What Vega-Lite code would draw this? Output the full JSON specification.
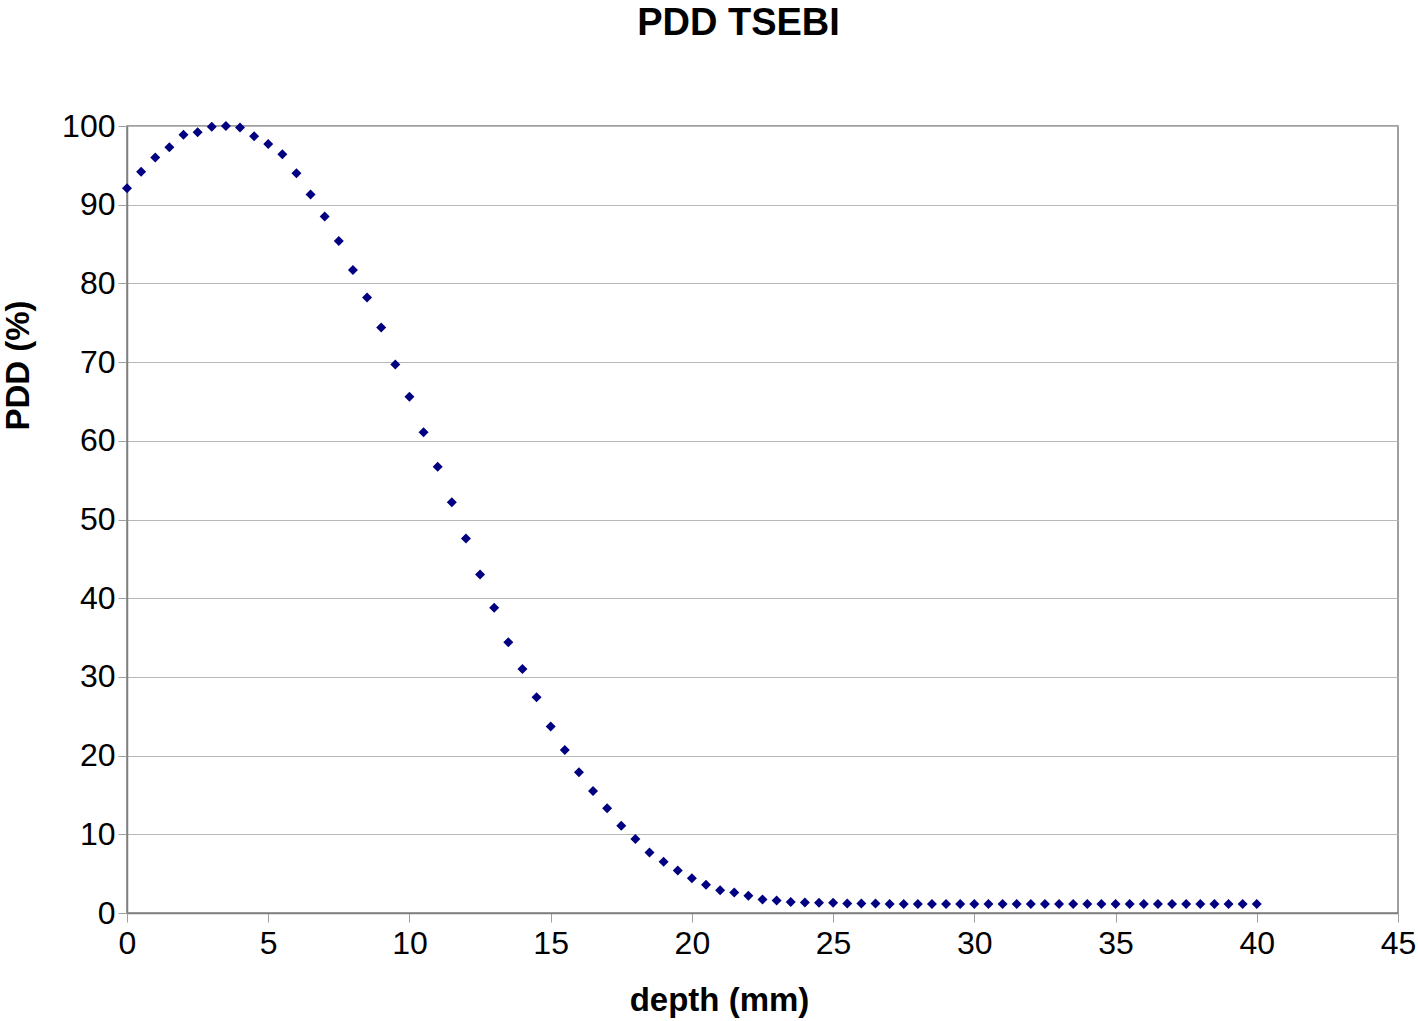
{
  "$schema": "https://vega.github.io/schema/vega-lite/v6.json",
  "width": 1271,
  "height": 787,
  "autosize": "none",
  "padding": {"left": 127, "top": 126, "right": 20, "bottom": 108},
  "background": "white",
  "title": {
    "text": "PDD TSEBI",
    "font": "Liberation Sans",
    "fontSize": 38,
    "fontWeight": "bold",
    "color": "black",
    "anchor": "middle",
    "dx": -24,
    "offset": 67
  },
  "config": {
    "view": {"stroke": "#808080", "strokeWidth": 1.5},
    "axis": {
      "labelFont": "Liberation Sans",
      "titleFont": "Liberation Sans",
      "labelColor": "black",
      "titleColor": "black",
      "labelFontSize": 32,
      "titleFontSize": 33,
      "titleFontWeight": "bold",
      "domainColor": "#808080",
      "domainWidth": 1.5,
      "tickColor": "#a0a0a0",
      "tickSize": 9,
      "gridColor": "#b8b8b8",
      "gridWidth": 1
    }
  },
  "data": {
    "values": [
      {"depth": 0, "pdd": 92.1}, {"depth": 0.5, "pdd": 94.2}, {"depth": 1, "pdd": 96.0}, {"depth": 1.5, "pdd": 97.3},
      {"depth": 2, "pdd": 98.9}, {"depth": 2.5, "pdd": 99.2}, {"depth": 3, "pdd": 99.9}, {"depth": 3.5, "pdd": 100},
      {"depth": 4, "pdd": 99.8}, {"depth": 4.5, "pdd": 98.7}, {"depth": 5, "pdd": 97.7}, {"depth": 5.5, "pdd": 96.4},
      {"depth": 6, "pdd": 94.0}, {"depth": 6.5, "pdd": 91.3}, {"depth": 7, "pdd": 88.5}, {"depth": 7.5, "pdd": 85.4},
      {"depth": 8, "pdd": 81.7}, {"depth": 8.5, "pdd": 78.2}, {"depth": 9, "pdd": 74.4}, {"depth": 9.5, "pdd": 69.7},
      {"depth": 10, "pdd": 65.6}, {"depth": 10.5, "pdd": 61.1}, {"depth": 11, "pdd": 56.7}, {"depth": 11.5, "pdd": 52.2},
      {"depth": 12, "pdd": 47.6}, {"depth": 12.5, "pdd": 43.0}, {"depth": 13, "pdd": 38.8}, {"depth": 13.5, "pdd": 34.4},
      {"depth": 14, "pdd": 31.0}, {"depth": 14.5, "pdd": 27.4}, {"depth": 15, "pdd": 23.7}, {"depth": 15.5, "pdd": 20.7},
      {"depth": 16, "pdd": 17.9}, {"depth": 16.5, "pdd": 15.5}, {"depth": 17, "pdd": 13.3}, {"depth": 17.5, "pdd": 11.1},
      {"depth": 18, "pdd": 9.4}, {"depth": 18.5, "pdd": 7.7}, {"depth": 19, "pdd": 6.5}, {"depth": 19.5, "pdd": 5.4},
      {"depth": 20, "pdd": 4.4}, {"depth": 20.5, "pdd": 3.6}, {"depth": 21, "pdd": 2.9}, {"depth": 21.5, "pdd": 2.6},
      {"depth": 22, "pdd": 2.2}, {"depth": 22.5, "pdd": 1.7}, {"depth": 23, "pdd": 1.6}, {"depth": 23.5, "pdd": 1.4},
      {"depth": 24, "pdd": 1.35}, {"depth": 24.5, "pdd": 1.3}, {"depth": 25, "pdd": 1.3}, {"depth": 25.5, "pdd": 1.2},
      {"depth": 26, "pdd": 1.2}, {"depth": 26.5, "pdd": 1.2}, {"depth": 27, "pdd": 1.15}, {"depth": 27.5, "pdd": 1.15},
      {"depth": 28, "pdd": 1.15}, {"depth": 28.5, "pdd": 1.15}, {"depth": 29, "pdd": 1.15}, {"depth": 29.5, "pdd": 1.15},
      {"depth": 30, "pdd": 1.15}, {"depth": 30.5, "pdd": 1.15}, {"depth": 31, "pdd": 1.15}, {"depth": 31.5, "pdd": 1.15},
      {"depth": 32, "pdd": 1.15}, {"depth": 32.5, "pdd": 1.15}, {"depth": 33, "pdd": 1.15}, {"depth": 33.5, "pdd": 1.15},
      {"depth": 34, "pdd": 1.15}, {"depth": 34.5, "pdd": 1.15}, {"depth": 35, "pdd": 1.15}, {"depth": 35.5, "pdd": 1.15},
      {"depth": 36, "pdd": 1.15}, {"depth": 36.5, "pdd": 1.15}, {"depth": 37, "pdd": 1.15}, {"depth": 37.5, "pdd": 1.15},
      {"depth": 38, "pdd": 1.15}, {"depth": 38.5, "pdd": 1.15}, {"depth": 39, "pdd": 1.15}, {"depth": 39.5, "pdd": 1.15},
      {"depth": 40, "pdd": 1.15}
    ]
  },
  "mark": {"type": "point", "shape": "diamond", "filled": true, "color": "#000080", "size": 100, "opacity": 1, "clip": false},
  "encoding": {
    "x": {
      "field": "depth",
      "type": "quantitative",
      "scale": {"domain": [0, 45], "nice": false, "zero": false},
      "axis": {
        "values": [0, 5, 10, 15, 20, 25, 30, 35, 40, 45],
        "grid": false,
        "labelPadding": 6,
        "labelFlush": false,
        "title": "depth (mm)",
        "titleX": 592,
        "titleY": 97,
        "titleBaseline": "alphabetic",
        "titleAnchor": null
      }
    },
    "y": {
      "field": "pdd",
      "type": "quantitative",
      "scale": {"domain": [0, 100], "nice": false},
      "axis": {
        "values": [0, 10, 20, 30, 40, 50, 60, 70, 80, 90, 100],
        "grid": true,
        "labelPadding": 3,
        "labelFlush": false,
        "title": "PDD (%)",
        "titleX": -99,
        "titleY": 239,
        "titleAngle": -90,
        "titleBaseline": "alphabetic",
        "titleAlign": "center"
      }
    }
  }
}
